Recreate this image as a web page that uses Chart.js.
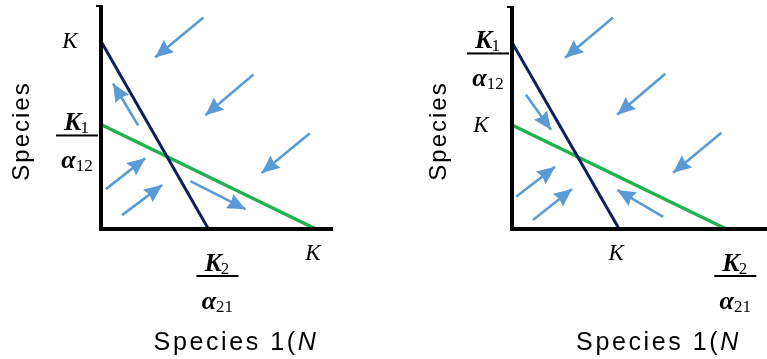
<!DOCTYPE html>
<html><head><meta charset="utf-8">
<script src="https://cdn.jsdelivr.net/npm/chart.js@4/dist/chart.umd.min.js"></script>
<style>
html,body{margin:0;padding:0;background:#fff;}
body{width:767px;height:359px;position:relative;overflow:hidden;}
#wrapL{position:absolute;left:0;top:0;width:384px;height:359px;}
#wrapR{position:absolute;left:384px;top:0;width:383px;height:359px;}
canvas{display:block;}
</style></head><body>
<div id="wrapL"><canvas id="cL" width="384" height="359"></canvas></div>
<div id="wrapR"><canvas id="cR" width="383" height="359"></canvas></div>
<script>
// ---------- Left panel data ----------
const leftNavyX = [0, 50];
const leftNavyY = [88, 0];
const leftGreenX = [0, 100];
const leftGreenY = [49, 0];
const leftArrowStartX = [47.7, 71.0, 97.2, 17.3, 2.3, 9.8, 41.6];
const leftArrowStartY = [99.1, 72.4, 44.9, 48.6, 18.7, 6.5, 22.4];
const leftArrowEndX   = [25.2, 48.6, 74.8, 5.6, 20.6, 28.5, 67.3];
const leftArrowEndY   = [80.4, 53.3, 26.2, 68.2, 33.2, 20.6, 9.3];
const leftYTickValues = [88, 49];
const leftYTickLabels = [{main:'K'}, {main:'K', sub:'1', den:'α', denSub:'12'}];
const leftXTickValues = [50, 100];
const leftXTickLabels = [{main:'K', sub:'2', den:'α', denSub:'21'}, {main:'K'}];

// ---------- Right panel data ----------
const rightNavyX = [0, 50];
const rightNavyY = [87, 0];
const rightGreenX = [0, 100];
const rightGreenY = [48.5, 0];
const rightArrowStartX = [47.2, 71.5, 97.7, 6.5, 1.9, 9.8, 70.6];
const rightArrowStartY = [98.6, 72.4, 44.9, 62.6, 15.0, 4.2, 5.6];
const rightArrowEndX   = [24.8, 49.1, 75.2, 18.2, 20.1, 28.0, 49.1];
const rightArrowEndY   = [79.9, 53.3, 26.2, 46.3, 29.0, 18.7, 18.2];
const rightYTickValues = [87, 48.5];
const rightYTickLabels = [{main:'K', sub:'1', den:'α', denSub:'12'}, {main:'K'}];
const rightXTickValues = [50, 100];
const rightXTickLabels = [{main:'K'}, {main:'K', sub:'2', den:'α', denSub:'21'}];

const yAxisTitle = 'Species';
const xAxisTitle = 'Species 1(';
const xAxisTitleItalic = 'N';

const NAVY = '#0f1f5c';
const GREEN = '#1db24c';
const ARROW = '#5b9bd5';

function pts(xs, ys){ return xs.map((x,i)=>({x:x, y:ys[i]})); }

function drawPlain(ctx, cx, cy, lab){
  ctx.font = 'italic 23px "Liberation Serif"';
  ctx.textAlign = 'center';
  ctx.textBaseline = 'middle';
  ctx.fillText(lab.main, cx, cy);
}
function drawFrac(ctx, cx, lineY, lab){
  ctx.textAlign = 'left';
  ctx.textBaseline = 'alphabetic';
  const fMain = 'italic bold 26px "Liberation Serif"';
  const fSub = '17px "Liberation Serif"';
  ctx.font = fMain; const w1 = ctx.measureText(lab.main).width;
  ctx.font = fSub; const w2 = ctx.measureText(lab.sub).width;
  let x = cx - (w1 + w2)/2;
  ctx.font = fMain; ctx.fillText(lab.main, x, lineY - 5);
  ctx.font = fSub; ctx.fillText(lab.sub, x + w1 - 1, lineY - 2);
  ctx.fillRect(cx - 21, lineY - 1, 42, 2);
  ctx.font = fMain; const w3 = ctx.measureText(lab.den).width;
  ctx.font = fSub; const w4 = ctx.measureText(lab.denSub).width;
  x = cx - (w3 + w4)/2;
  ctx.font = fMain; ctx.fillText(lab.den, x, lineY + 33);
  ctx.font = fSub; ctx.fillText(lab.denSub, x + w3, lineY + 36);
}

function makePanel(id, cfg){
  const arrows = cfg.sx.map((v,i)=>({
    type:'line', data:[{x:cfg.sx[i], y:cfg.sy[i]},{x:cfg.ex[i], y:cfg.ey[i]}],
    borderColor:ARROW, borderWidth:2.6, pointRadius:0, showLine:true, clip:false, borderCapStyle:'butt'
  }));
  const overlay = {
    id:'overlay',
    afterDatasetsDraw(chart){
      const ctx = chart.ctx, xs = chart.scales.x, ys = chart.scales.y, ca = chart.chartArea;
      ctx.save();
      // arrowheads
      ctx.fillStyle = ARROW;
      for(let i=0;i<cfg.sx.length;i++){
        const x0 = xs.getPixelForValue(cfg.sx[i]), y0 = ys.getPixelForValue(cfg.sy[i]);
        const x1 = xs.getPixelForValue(cfg.ex[i]), y1 = ys.getPixelForValue(cfg.ey[i]);
        const a = Math.atan2(y1-y0, x1-x0);
        const L = 18, W = 8, N = 2;
        const bx = x1 - L*Math.cos(a), by = y1 - L*Math.sin(a);
        const px = -Math.sin(a), py = Math.cos(a);
        ctx.beginPath();
        ctx.moveTo(x1, y1);
        ctx.lineTo(bx + W*px, by + W*py);
        ctx.lineTo(x1 - (L-N)*Math.cos(a), y1 - (L-N)*Math.sin(a));
        ctx.lineTo(bx - W*px, by - W*py);
        ctx.closePath();
        ctx.fill();
      }
      // axes
      ctx.fillStyle = '#000';
      ctx.fillRect(ca.left - 2, ca.top, 4, ca.bottom - ca.top + 2);
      ctx.fillRect(ca.left - 5, ca.top, 4, 2);
      ctx.fillRect(ca.left - 2, ca.bottom - 2, ca.right - ca.left + 2, 4);
      // y tick labels
      cfg.yv.forEach((v,i)=>{
        const p = ys.getPixelForValue(v), lab = cfg.yl[i];
        if(lab.den) drawFrac(ctx, ca.left - 24, p + 11, lab);
        else drawPlain(ctx, ca.left - 31, p + 1, lab);
      });
      // x tick labels
      cfg.xv.forEach((v,i)=>{
        const p = xs.getPixelForValue(v), lab = cfg.xl[i];
        if(lab.den) drawFrac(ctx, p + 9, ca.bottom + 47, lab);
        else drawPlain(ctx, p - 3, ca.bottom + 25, lab);
      });
      // axis titles
      ctx.font = '24px "Liberation Sans"';
      try { ctx.letterSpacing = '2px'; } catch(e){}
      ctx.textBaseline = 'middle';
      ctx.textAlign = 'center';
      ctx.save();
      ctx.translate(cfg.yTitleX, 131);
      ctx.rotate(-Math.PI/2);
      ctx.fillText(yAxisTitle, 0, 0);
      ctx.restore();
      try { ctx.letterSpacing = '2.6px'; } catch(e){}
      ctx.textAlign = 'left';
      ctx.textBaseline = 'alphabetic';
      ctx.font = '25px "Liberation Sans"';
      const w1 = ctx.measureText(xAxisTitle).width;
      ctx.font = 'italic 25px "Liberation Sans"';
      const w2 = ctx.measureText(xAxisTitleItalic).width;
      const cx = (ca.left + ca.right)/2 + 19;
      let x = cx - (w1 + w2)/2;
      ctx.font = '25px "Liberation Sans"';
      ctx.fillText(xAxisTitle, x, 350);
      ctx.font = 'italic 25px "Liberation Sans"';
      ctx.fillText(xAxisTitleItalic, x + w1, 350);
      try { ctx.letterSpacing = '0px'; } catch(e){}
      ctx.restore();
    }
  };
  return new Chart(document.getElementById(id), {
    type:'scatter',
    data:{ datasets:[
      ...arrows,
      {type:'line', data:pts(cfg.nx, cfg.ny), borderColor:NAVY, borderWidth:3, pointRadius:0, clip:false},
      {type:'line', data:pts(cfg.gx, cfg.gy), borderColor:GREEN, borderWidth:3.4, pointRadius:0, clip:false}
    ]},
    options:{
      responsive:false, animation:false, events:[],
      layout:{padding:cfg.pad},
      plugins:{legend:{display:false}, tooltip:{enabled:false}},
      scales:{
        x:{type:'linear', min:0, max:cfg.xMax, display:false},
        y:{type:'linear', min:0, max:cfg.yMax, display:false}
      }
    },
    plugins:[overlay]
  });
}

makePanel('cL', {
  nx:leftNavyX, ny:leftNavyY, gx:leftGreenX, gy:leftGreenY,
  sx:leftArrowStartX, sy:leftArrowStartY, ex:leftArrowEndX, ey:leftArrowEndY,
  yv:leftYTickValues, yl:leftYTickLabels, xv:leftXTickValues, xl:leftXTickLabels,
  xMax:108, yMax:105, pad:{left:101, right:51, top:5, bottom:130}, yTitleX:22
});
makePanel('cR', {
  nx:rightNavyX, ny:rightNavyY, gx:rightGreenX, gy:rightGreenY,
  sx:rightArrowStartX, sy:rightArrowStartY, ex:rightArrowEndX, ey:rightArrowEndY,
  yv:rightYTickValues, yl:rightYTickLabels, xv:rightXTickValues, xl:rightXTickLabels,
  xMax:119, yMax:104, pad:{left:128, right:0, top:6, bottom:130}, yTitleX:55
});
</script>
</body></html>
